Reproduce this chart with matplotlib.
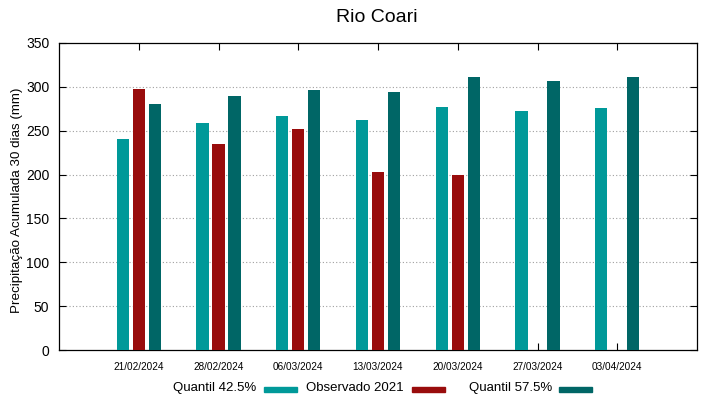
import matplotlib
matplotlib.use("Agg")
import matplotlib.pyplot as plt
import numpy as np
from matplotlib.patches import Rectangle

plt.rcParams['font.family'] = ['Liberation Sans', 'DejaVu Sans']

dates = ["21/02/2024", "28/02/2024", "06/03/2024", "13/03/2024",
         "20/03/2024", "27/03/2024", "03/04/2024"]
q425 = [241, 259, 267, 262, 277, 273, 276]
obs2021 = [298, 235, 252, 203, 199, np.nan, np.nan]
q575 = [280, 290, 296, 294, 311, 307, 311]

labels = ["Quantil 42.5%", "Observado 2021", "Quantil 57.5%"]
colors = ["#009999", "#990c0c", "#006666"]

fig = plt.figure(figsize=(7.19, 3.99), dpi=100)
ax = fig.add_axes([59/719, 1 - 350/399, (697-59)/719, (350-43)/399])

x = np.arange(len(dates))
w = 0.155
off = 0.2
for vals, dx, c in zip([q425, obs2021, q575], [-off, 0, off], colors):
    v = np.array(vals, dtype=float)
    m = ~np.isnan(v)
    ax.bar(x[m] + dx, v[m], width=w, color=c, zorder=3)

ax.set_xlim(-1, 7)
ax.set_ylim(0, 350)
ax.set_yticks(np.arange(0, 351, 50))
ax.set_xticks(x)
ax.set_xticklabels(dates, fontsize=7.2)
ax.tick_params(axis='y', labelsize=10, direction='in', length=5, right=True, pad=7)
ax.tick_params(axis='x', direction='in', length=5, top=True, pad=9)
for yv in range(50, 350, 50):
    ax.axhline(yv, color='#a0a0a0', linestyle=(0, (1, 2)), linewidth=0.8, zorder=1)
for s in ax.spines.values():
    s.set_linewidth(0.9)

ax.set_ylabel("Precipitação Acumulada 30 dias (mm)", fontsize=9.6)
ax.yaxis.set_label_coords((23 - 59) / 638, (350 - 200) / 307)
fig.text(377/719, 1 - 17/399, "Rio Coari", fontsize=14, ha='center', va='center')

# legend (gnuplot style: text then swatch)
leg_text_right = [256, 404, 552]
leg_sw_left = [264, 412, 559]
ly = 388
for t, xr, xs, c in zip(labels, leg_text_right, leg_sw_left, colors):
    fig.text(xr/719, 1 - ly/399, t, fontsize=9.5, ha='right', va='center')
    fig.patches.append(Rectangle((xs/719, 1 - (ly+3.5)/399), 33/719, 5/399,
                                 transform=fig.transFigure, color=c))

fig.savefig("out.png", dpi=100)
